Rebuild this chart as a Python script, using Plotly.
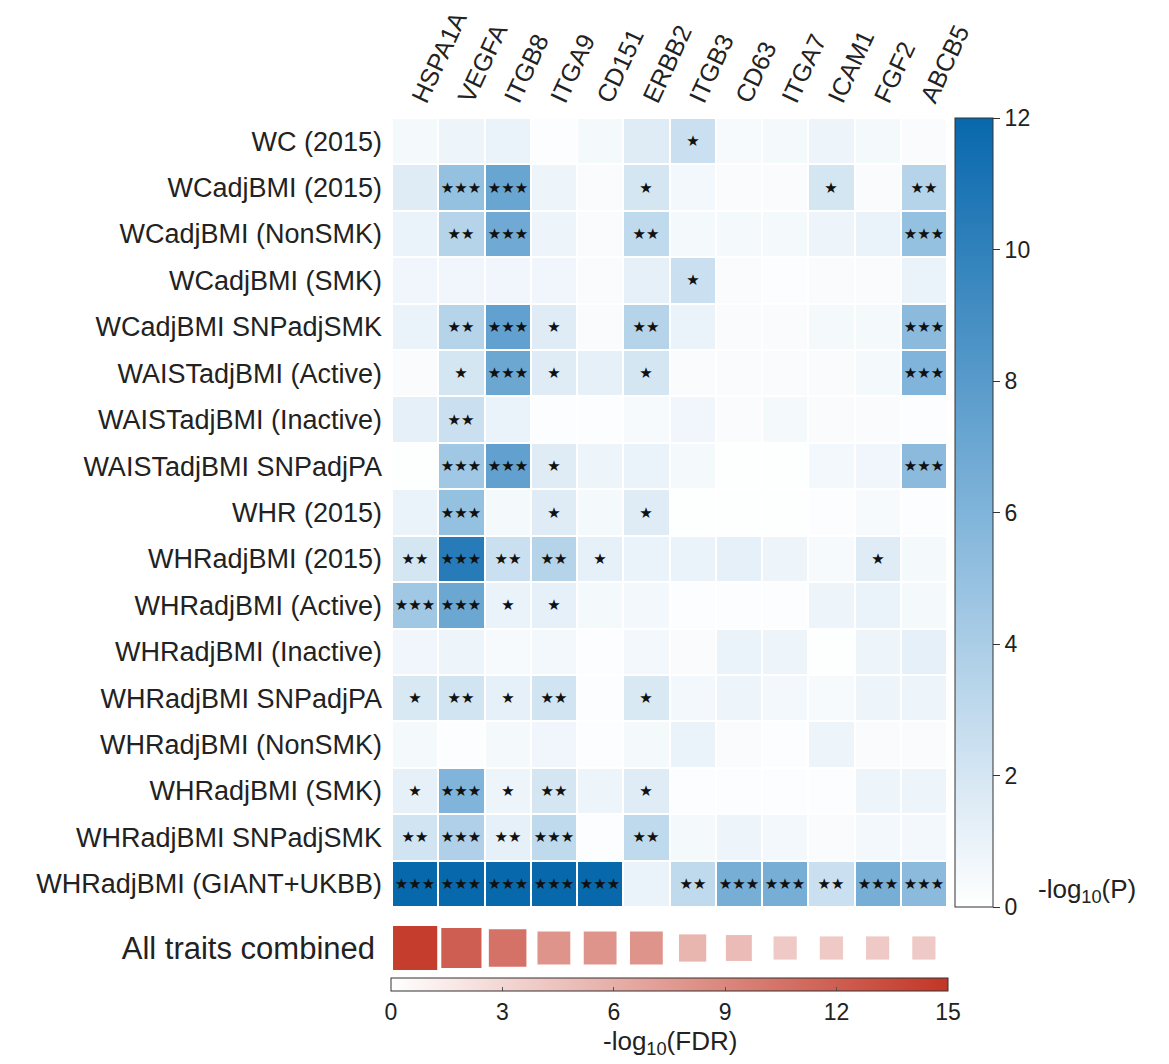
import math
import plotly.graph_objects as go

genes = ["HSPA1A", "VEGFA", "ITGB8", "ITGA9", "CD151", "ERBB2",
         "ITGB3", "CD63", "ITGA7", "ICAM1", "FGF2", "ABCB5"]

traits = ["WC (2015)", "WCadjBMI (2015)", "WCadjBMI (NonSMK)", "WCadjBMI (SMK)",
          "WCadjBMI SNPadjSMK", "WAISTadjBMI (Active)", "WAISTadjBMI (Inactive)",
          "WAISTadjBMI SNPadjPA", "WHR (2015)", "WHRadjBMI (2015)", "WHRadjBMI (Active)",
          "WHRadjBMI (Inactive)", "WHRadjBMI SNPadjPA", "WHRadjBMI (NonSMK)",
          "WHRadjBMI (SMK)", "WHRadjBMI SNPadjSMK", "WHRadjBMI (GIANT+UKBB)"]

# -log10(P) per trait (rows) x gene (columns)
neglogp = [
    [0.5, 0.8, 1.0, 0.2, 0.5, 1.5, 2.5, 0.4, 0.5, 0.8, 0.5, 0.3],
    [1.5, 5.0, 7.2, 0.8, 0.3, 2.0, 0.6, 0.3, 0.3, 2.0, 0.3, 3.5],
    [1.0, 3.5, 6.8, 0.8, 0.3, 3.0, 0.5, 0.5, 0.5, 0.8, 1.0, 5.0],
    [0.7, 0.7, 0.7, 0.7, 0.3, 1.2, 2.5, 0.3, 0.2, 0.3, 0.3, 1.0],
    [1.0, 3.5, 7.5, 1.5, 0.3, 3.5, 1.0, 0.3, 0.3, 0.5, 0.5, 5.5],
    [0.3, 2.0, 7.0, 1.5, 1.2, 2.0, 0.3, 0.3, 0.3, 0.3, 0.5, 6.0],
    [1.2, 2.5, 1.0, 0.2, 0.2, 0.4, 0.7, 0.3, 0.5, 0.3, 0.3, 0.2],
    [0.1, 4.5, 7.5, 1.5, 0.8, 1.0, 0.5, 0.1, 0.1, 0.6, 0.7, 5.5],
    [1.0, 5.0, 0.5, 1.5, 0.5, 1.5, 0.1, 0.1, 0.1, 0.2, 0.4, 0.2],
    [2.0, 10.5, 2.5, 3.5, 1.2, 1.0, 1.0, 1.2, 0.8, 0.4, 1.5, 0.5],
    [4.5, 7.0, 1.0, 1.2, 0.5, 0.6, 0.2, 0.2, 0.2, 0.8, 1.0, 0.5],
    [0.7, 0.8, 0.4, 0.6, 0.2, 0.6, 0.3, 1.0, 0.8, 0.1, 0.8, 1.2],
    [1.8, 2.2, 1.2, 2.2, 0.2, 1.8, 0.6, 0.8, 0.6, 0.4, 0.8, 0.8],
    [0.5, 0.2, 0.5, 0.7, 0.2, 0.5, 1.0, 0.3, 0.2, 0.8, 0.3, 0.3],
    [1.2, 6.0, 0.8, 2.0, 0.8, 1.5, 0.2, 0.2, 0.2, 0.2, 0.8, 0.8],
    [2.2, 3.8, 1.2, 3.0, 0.2, 3.0, 0.5, 0.8, 0.6, 0.3, 0.6, 0.6],
    [12.0, 12.0, 12.0, 12.0, 12.0, 1.0, 3.0, 6.5, 6.5, 2.5, 6.5, 5.5],
]

stars = [
    ["", "", "", "", "", "", "*", "", "", "", "", ""],
    ["", "***", "***", "", "", "*", "", "", "", "*", "", "**"],
    ["", "**", "***", "", "", "**", "", "", "", "", "", "***"],
    ["", "", "", "", "", "", "*", "", "", "", "", ""],
    ["", "**", "***", "*", "", "**", "", "", "", "", "", "***"],
    ["", "*", "***", "*", "", "*", "", "", "", "", "", "***"],
    ["", "**", "", "", "", "", "", "", "", "", "", ""],
    ["", "***", "***", "*", "", "", "", "", "", "", "", "***"],
    ["", "***", "", "*", "", "*", "", "", "", "", "", ""],
    ["**", "***", "**", "**", "*", "", "", "", "", "", "*", ""],
    ["***", "***", "*", "*", "", "", "", "", "", "", "", ""],
    ["", "", "", "", "", "", "", "", "", "", "", ""],
    ["*", "**", "*", "**", "", "*", "", "", "", "", "", ""],
    ["", "", "", "", "", "", "", "", "", "", "", ""],
    ["*", "***", "*", "**", "", "*", "", "", "", "", "", ""],
    ["**", "***", "**", "***", "", "**", "", "", "", "", "", ""],
    ["***", "***", "***", "***", "***", "", "**", "***", "***", "**", "***", "***"],
]

# combined -log10(FDR) per gene
combined_label = "All traits combined"
neglogfdr = [14.5, 12.0, 10.5, 8.0, 8.0, 8.0, 5.5, 5.0, 4.0, 4.0, 4.0, 4.0]

# page body has an 8px margin: work in screen pixels, convert to figure pixels
OFF = 8
W, H = 1169 - OFF, 1064 - OFF
L, R, T, B = 392, 947, 118, 972   # plot area in screen pixels
PW, PH = R - L, B - T

def px_x(x):
    return (x - L) / PW

def px_y(y):
    return (B - y) / PH

star_text = [[s.replace("*", "\u2605") for s in row] for row in stars]

blues = [[0, "rgb(255,255,255)"], [0.5, "rgb(128,180,218)"], [1, "rgb(8,104,172)"]]
reds = [[0, "rgb(255,255,255)"], [1, "rgb(194,54,38)"]]

fig = go.Figure()
fig.add_trace(go.Heatmap(
    z=neglogp, x=genes, y=traits, text=star_text, texttemplate="%{text}",
    textfont=dict(size=15, color="#111111", family="DejaVu Sans"),
    colorscale=blues, zmin=0, zmax=12, xgap=2, ygap=2,
    colorbar=dict(
        x=px_x(955), xanchor="left", y=px_y(512.5), yanchor="middle",
        len=789 / PH, lenmode="fraction", thickness=38, xpad=0, ypad=0,
        outlinewidth=1, outlinecolor="#333",
        tickvals=[0, 2, 4, 6, 8, 10, 12], ticks="outside", ticklen=7,
        tickcolor="#333", tickfont=dict(size=23, color="#222"),
    ),
    xaxis="x", yaxis="y", hoverinfo="skip",
))

fig.add_trace(go.Scatter(
    x=genes, y=[combined_label] * len(genes), mode="markers",
    cliponaxis=False,
    marker=dict(
        symbol="square", size=[11.6 * math.sqrt(v) for v in neglogfdr],
        color=neglogfdr, colorscale=reds, cmin=0, cmax=15, opacity=1,
        line=dict(width=0),
        colorbar=dict(
            orientation="h", x=px_x(669.5), xanchor="center",
            y=px_y(978), yanchor="top", len=557 / PW, lenmode="fraction",
            thickness=13, xpad=0, ypad=0, outlinewidth=1, outlinecolor="#333",
            tickvals=[0, 3, 6, 9, 12, 15], ticks="inside", ticklen=4,
            tickcolor="#555", tickfont=dict(size=23, color="#222"),
        ),
    ),
    xaxis="x2", yaxis="y2", hoverinfo="skip", showlegend=False,
))

fig.update_layout(
    width=W, height=H,
    margin=dict(l=L - OFF, r=W - (R - OFF), t=T - OFF, b=H - (B - OFF), autoexpand=False),
    paper_bgcolor="white", plot_bgcolor="white",
    font=dict(family="Liberation Sans, Arial, sans-serif", color="#222"),
    xaxis=dict(domain=[0, 1], range=[-0.5, len(genes) - 0.5], side="top",
               tickangle=-65, tickfont=dict(size=25, color="#222"), showgrid=False,
               zeroline=False, ticks="", anchor="y", automargin=False),
    yaxis=dict(domain=[px_y(907), px_y(118)], autorange="reversed",
               tickfont=dict(size=27, color="#222"), showgrid=False,
               zeroline=False, ticks="", ticklabelstandoff=9, anchor="x",
               automargin=False),
    xaxis2=dict(domain=[0, 1], matches="x", showticklabels=False,
                showgrid=False, zeroline=False, anchor="y2", automargin=False),
    yaxis2=dict(domain=[px_y(972), px_y(924)], tickfont=dict(size=31, color="#222"),
                showgrid=False, zeroline=False, ticks="", ticklabelstandoff=16,
                anchor="x2", automargin=False),
    annotations=[
        dict(text="-log<sub>10</sub>(P)", x=px_x(1036), y=px_y(890),
             xref="paper", yref="paper", xanchor="left", yanchor="middle",
             showarrow=False, font=dict(size=26, color="#222")),
        dict(text="-log<sub>10</sub>(FDR)", x=px_x(669.5), y=px_y(1042),
             xref="paper", yref="paper", xanchor="center", yanchor="middle",
             showarrow=False, font=dict(size=26, color="#222")),
    ],
)

fig.write_html("out.html")
